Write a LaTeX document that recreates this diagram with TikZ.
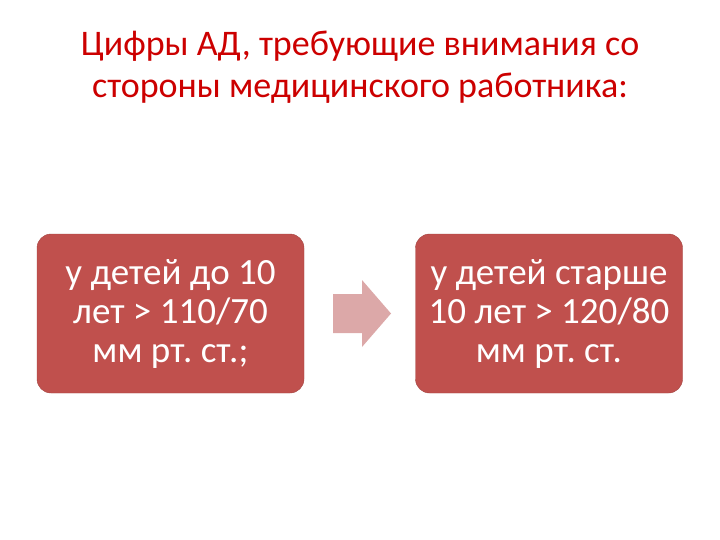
\documentclass[tikz,border=0pt]{standalone}
\usepackage{fontspec}
\setmainfont{Carlito}
\frenchspacing
\definecolor{titlered}{RGB}{204,0,0}
\definecolor{boxred}{HTML}{C0504D}
\definecolor{arrowpink}{RGB}{220,168,168}
\begin{document}
\begin{tikzpicture}[x=1pt,y=-1pt,
  stepbox/.style={rectangle, rounded corners=14pt, fill=boxred, draw=boxred!85!black, line width=0.4pt,
    minimum width=267pt, minimum height=159pt, text=white, align=center,
    font=\fontsize{37}{39}\selectfont, inner sep=0pt},
  titletext/.style={text=titlered, align=center, font=\fontsize{36}{42}\selectfont, inner sep=0pt}]
\useasboundingbox (0,0) rectangle (720,540);
\node[titletext] (title) at (360,67) {Цифры АД, требующие внимания со\\стороны медицинского работника:};
\node[stepbox] (left) at (170.5,313.5) {у детей до 10\\лет > 110/70\\мм рт. ст.;};
\node[stepbox] (right) at (549,313.5) {у детей старше\\10 лет > 120/80\\мм рт. ст.};
\fill[arrowpink] (333,294) -- (362,294) -- (362,280) -- (391,313.5) -- (362,347) -- (362,333) -- (333,333) -- cycle;
\end{tikzpicture}
\end{document}
